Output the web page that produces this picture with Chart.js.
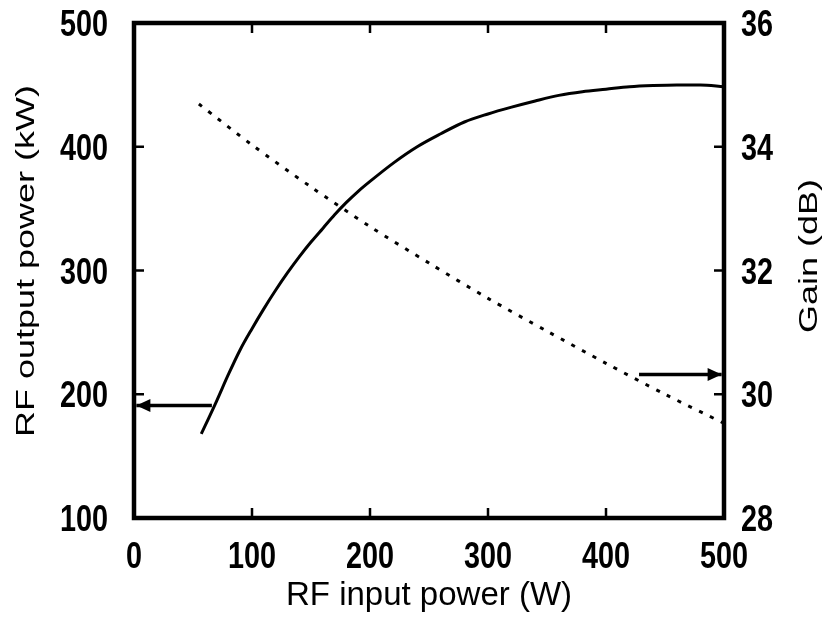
<!DOCTYPE html>
<html>
<head>
<meta charset="utf-8">
<script src="https://cdn.jsdelivr.net/npm/chart.js@4/dist/chart.umd.min.js"></script>
<style>
  html, body { margin: 0; padding: 0; background: #fff; }
  #wrap { width: 827px; height: 621px; }
</style>
</head>
<body>
<div id="wrap"><canvas id="chartPower" width="827" height="621"></canvas></div>
<script>
// ── Output power vs input power (left axis, kW) ─────────────────
const inputPower  = [57, 60, 70, 80, 90, 100, 110, 120, 130, 140, 150, 160, 170, 180, 190, 200,
                     220, 240, 260, 280, 300, 320, 340, 360, 380, 400, 420, 440, 460, 480, 500];
const outputPower = [168, 174, 194.5, 216, 236, 253, 269, 284, 298, 311, 323, 334, 345, 355, 364, 372,
                     387, 400, 410.5, 420, 426.5, 432, 437, 441.5, 444.5, 446.5, 448.5, 449.5, 450, 450, 448.5];

// ── Gain vs input power (right axis, dB) ─────────────────
const gainInput = [55, 100, 150, 200, 250, 300, 350, 400, 450, 500];
const gainDb    = [34.69, 34.03, 33.35, 32.71, 32.12, 31.55, 31.02, 30.50, 30.00, 29.53];

// ── Tick values ─────────────────
const xTicks     = [0, 100, 200, 300, 400, 500];
const powerTicks = [100, 200, 300, 400, 500];
const gainTicks  = [28, 30, 32, 34, 36];

// ── Arrows telling which axis each curve uses ─────────────────
const arrowPowerX = [66, 2];
const arrowPowerY = [191, 191];
const arrowGainX  = [428, 498];
const arrowGainY  = [30.32, 30.32];

const FONT_FAMILY = '"Liberation Sans", Arial, sans-serif';
const TICK_LEN = 10;
const NARROW = 0.8;   // tick digits are drawn condensed

const pts = (xs, ys) => xs.map((x, i) => ({ x, y: ys[i] }));
const setTicks = list => s => { s.ticks = list.map(value => ({ value })); };

// frame, inward ticks, tick labels, arrow heads and the vertical axis titles
const framePlugin = {
  id: 'frame',
  afterDatasetsDraw(chart) {
    const { ctx, chartArea: a, scales } = chart;
    ctx.save();
    ctx.strokeStyle = '#000';
    ctx.fillStyle = '#000';

    ctx.lineWidth = 2.5;
    ctx.beginPath();
    xTicks.forEach(v => {
      const px = scales.x.getPixelForValue(v);
      ctx.moveTo(px, a.bottom); ctx.lineTo(px, a.bottom - TICK_LEN);
      ctx.moveTo(px, a.top);    ctx.lineTo(px, a.top + TICK_LEN);
    });
    powerTicks.forEach(v => {
      const py = scales.y.getPixelForValue(v);
      ctx.moveTo(a.left, py); ctx.lineTo(a.left + TICK_LEN, py);
    });
    gainTicks.forEach(v => {
      const py = scales.y1.getPixelForValue(v);
      ctx.moveTo(a.right, py); ctx.lineTo(a.right - TICK_LEN, py);
    });
    ctx.stroke();

    ctx.lineWidth = 4.5;
    ctx.strokeRect(a.left, a.top, a.right - a.left, a.bottom - a.top);

    // tick labels
    const label = (text, x, y, align) => {
      ctx.save();
      ctx.translate(x, y);
      ctx.scale(NARROW, 1);
      ctx.font = 'bold 36px ' + FONT_FAMILY;
      ctx.textAlign = align;
      ctx.textBaseline = 'alphabetic';
      ctx.fillText(text, 0, 0);
      ctx.restore();
    };
    xTicks.forEach(v => label(String(v), scales.x.getPixelForValue(v), a.bottom + 50, 'center'));
    powerTicks.forEach(v => label(String(v), a.left - 26, scales.y.getPixelForValue(v) + 13, 'right'));
    gainTicks.forEach(v => label(String(v), a.right + 17, scales.y1.getPixelForValue(v) + 13, 'left'));

    // arrow heads at the last point of each arrow
    const head = (xs, ys, yScale) => {
      const n = xs.length - 1;
      const tx = scales.x.getPixelForValue(xs[n]);
      const ty = yScale.getPixelForValue(ys[n]);
      const dir = Math.sign(xs[n] - xs[n - 1]);
      ctx.beginPath();
      ctx.moveTo(tx, ty);
      ctx.lineTo(tx - dir * 14, ty - 6.5);
      ctx.lineTo(tx - dir * 14, ty + 6.5);
      ctx.closePath();
      ctx.fill();
    };
    head(arrowPowerX, arrowPowerY, scales.y);
    head(arrowGainX, arrowGainY, scales.y1);

    // rotated axis titles
    const vTitle = (text, x, y) => {
      ctx.save();
      ctx.translate(x, y);
      ctx.rotate(-Math.PI / 2);
      ctx.scale(1, 0.74);
      ctx.font = '36px ' + FONT_FAMILY;
      ctx.textAlign = 'center';
      ctx.textBaseline = 'alphabetic';
      ctx.fillText(text, 0, 0);
      ctx.restore();
    };
    vTitle('RF output power (kW)', 34, 261);
    vTitle('Gain (dB)', 817, 256);

    ctx.restore();
  }
};

new Chart(document.getElementById('chartPower'), {
  type: 'line',
  data: {
    datasets: [
      {
        data: pts(inputPower, outputPower),
        yAxisID: 'y',
        borderColor: '#000',
        borderWidth: 3,
        pointRadius: 0,
        cubicInterpolationMode: 'monotone',
      },
      {
        data: pts(gainInput, gainDb),
        yAxisID: 'y1',
        borderColor: '#000',
        borderWidth: 3,
        borderDash: [4, 8],
        pointRadius: 0,
        tension: 0.3,
      },
      {
        data: pts(arrowPowerX, arrowPowerY),
        yAxisID: 'y',
        borderColor: '#000',
        borderWidth: 3.5,
        pointRadius: 0,
      },
      {
        data: pts(arrowGainX, arrowGainY),
        yAxisID: 'y1',
        borderColor: '#000',
        borderWidth: 3.5,
        pointRadius: 0,
      },
    ],
  },
  options: {
    responsive: false,
    animation: false,
    devicePixelRatio: 1,
    layout: { padding: { top: 23 } },
    plugins: { legend: { display: false }, tooltip: { enabled: false } },
    scales: {
      x: {
        type: 'linear',
        min: 0, max: 500,
        afterBuildTicks: setTicks(xTicks),
        afterFit: s => { s.height = 103; },
        grid: { display: false, drawTicks: false },
        border: { display: false },
        ticks: { display: false },
        title: {
          display: true,
          text: 'RF input power (W)',
          color: '#000',
          font: { family: FONT_FAMILY, size: 33 },
          padding: { top: 0, bottom: 5 },
        },
      },
      y: {
        position: 'left',
        min: 100, max: 500,
        afterBuildTicks: setTicks(powerTicks),
        afterFit: s => { s.width = 134; },
        grid: { display: false, drawTicks: false },
        border: { display: false },
        ticks: { display: false },
      },
      y1: {
        position: 'right',
        min: 28, max: 36,
        afterBuildTicks: setTicks(gainTicks),
        afterFit: s => { s.width = 103; },
        grid: { display: false, drawTicks: false },
        border: { display: false },
        ticks: { display: false },
      },
    },
  },
  plugins: [framePlugin],
});
</script>
</body>
</html>
